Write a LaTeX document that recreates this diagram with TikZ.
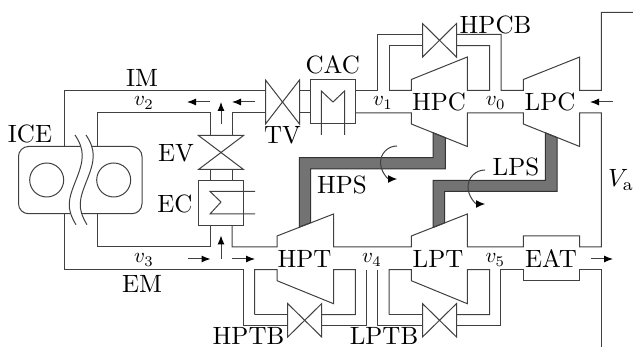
\documentclass[tikz,border=0pt]{standalone}
\definecolor{pipe}{gray}{0.25}
\definecolor{shaft}{gray}{0.45}
\usetikzlibrary{arrows.meta}
\newcommand{\valveh}[3]{\draw[pipeline, fill=white] (#1-17,#2-#3) -- (#1+17,#2+#3) -- (#1+17,#2-#3) -- (#1-17,#2+#3) -- cycle;}
\tikzset{
    pipeline/.style={draw=pipe, line width=1pt, line join=miter},
    flowarrow/.style={pipeline, -{Latex[black,length=9pt,width=7pt]}},
    spinarrow/.style={pipeline, -{Latex[black,length=9pt,width=8pt]}},
    shaftbar/.style={draw=black!80, fill=shaft, line width=1pt},
    lbl/.style={scale=2.5, transform shape, inner sep=0pt},
    vel/.style={scale=2.1, transform shape, inner sep=0pt}
}
\begin{document}
\begin{tikzpicture}[x=1pt,y=-1pt]
    \useasboundingbox (0,0) rectangle (633,347);

    % shafts
    \draw[shaftbar] (299.3,227) -- (299.3,157.7) -- (433,157.7) -- (433,132.7) -- (445.3,137.7) -- (445.3,169) -- (310.7,169) -- (310.7,222.7) -- cycle;
    \draw[shaftbar] (545.3,132.8) -- (557,137.5) -- (557,191.3) -- (444.7,191.3) -- (444.7,222.9) -- (433,227.5) -- (433,180.3) -- (545.3,180.3) -- cycle;

    % engine
    \draw[pipeline, rounded corners=10pt] (80,146.5) -- (18.5,146.5) -- (18.5,213.7) -- (70,213.7);
    \draw[pipeline, rounded corners=10pt] (90,146.5) -- (142,146.5) -- (142,213.7) -- (82,213.7);
    \draw[pipeline] (46.7,180) circle (17);
    \draw[pipeline] (113.7,180) circle (17);
    \draw[fill=white, draw=none] (75,135) .. controls (85,150) and (84,160) .. (76,180) .. controls (68,200) and (66,208) .. (76,224.7) -- (87,224.7) .. controls (77,208) and (79,200) .. (87,180) .. controls (95,160) and (96,150) .. (86,135) -- cycle;
    \draw[pipeline] (75,135) .. controls (85,150) and (84,160) .. (76,180) .. controls (68,200) and (66,208) .. (76,224.7);
    \draw[pipeline] (86,135) .. controls (96,150) and (95,160) .. (87,180) .. controls (79,200) and (77,208) .. (87,224.7);

    % intake side
    \draw[pipeline] (64,146.5) -- (64,90.5) -- (265.5,90.5);
    \draw[pipeline] (97.5,146.5) -- (97.5,113) -- (210,113) -- (210,135.5);
    \draw[pipeline] (232,135.5) -- (232,113) -- (265.5,113);
    \draw[pipeline] (299.5,90.5) -- (310.5,90.5);
    \draw[pipeline] (299.5,113) -- (310.5,113);
    \draw[pipeline] (355.3,90.5) -- (377.7,90.5) -- (377.7,34.5) -- (422.7,34.5);
    \draw[pipeline] (389,90.5) -- (389,45.7) -- (422.7,45.7);
    \draw[pipeline] (389,90.5) -- (411.3,90.5) -- (411.3,79.5) -- (467.3,57) -- (467.3,90.5) -- (489.7,90.5) -- (489.7,45.7) -- (456.3,45.7);
    \draw[pipeline] (456.3,34.5) -- (501,34.5) -- (501,90.5) -- (523.3,90.5) -- (523.3,79.5) -- (579.7,57) -- (579.7,90.5) -- (601.3,90.5) -- (601.3,12.5) -- (633,12.5);
    \draw[pipeline] (355.3,113) -- (411.3,113) -- (411.3,124) -- (467.3,146.5) -- (467.3,113) -- (523.3,113) -- (523.3,124) -- (579.7,146.5) -- (579.7,113) -- (601.3,113) -- (601.3,247) -- (579.7,247) -- (579.7,236) -- (523.3,236) -- (523.3,247) -- (467.3,247) -- (467.3,214) -- (411.3,236) -- (411.3,247) -- (333.5,247) -- (333.5,214) -- (277,236) -- (277,247) -- (232,247) -- (232,225.3);

    % exhaust side
    \draw[pipeline] (97.5,213.7) -- (97.5,247) -- (210,247) -- (210,225.3);
    \draw[pipeline] (64,213.7) -- (64,269.7) -- (243.5,269.7) -- (243.5,326) -- (288,326);
    \draw[pipeline] (254.7,314.7) -- (254.7,269.7) -- (277,269.7) -- (277,280.7) -- (333.5,303.7) -- (333.5,269.7) -- (355.3,269.7) -- (355.3,314.7) -- (321.5,314.7);
    \draw[pipeline] (254.7,314.7) -- (288,314.7);
    \draw[pipeline] (321.5,326) -- (366.3,326) -- (366.3,269.7);
    \draw[pipeline] (377.7,269.7) -- (377.7,326) -- (422.7,326);
    \draw[pipeline] (389,314.7) -- (389,269.7) -- (411.3,269.7) -- (411.3,280.7) -- (467.3,303.7) -- (467.3,269.7) -- (489.7,269.7) -- (489.7,314.7) -- (456.3,314.7);
    \draw[pipeline] (389,314.7) -- (422.7,314.7);
    \draw[pipeline] (456.3,326) -- (500.7,326) -- (500.7,269.7) -- (523.3,269.7) -- (523.3,281) -- (579.7,281) -- (579.7,269.7) -- (601.3,269.7) -- (601.3,347);

    % EGR branch
    \draw[pipeline] (210,169.5) -- (210,180.3);
    \draw[pipeline] (232,169.5) -- (232,180.3);
    \draw[pipeline, fill=white] (198.5,135.5) -- (243.5,169.5) -- (198.5,169.5) -- (243.5,135.5) -- cycle;
    \draw[pipeline] (198.5,180.3) rectangle (243.5,225.3);
    \draw[pipeline] (255,191.5) -- (210,191.5) -- (221,202) -- (210,214) -- (255,214);

    % cooler and valves
    \draw[pipeline] (310.5,80) rectangle (355.3,124);
    \draw[pipeline] (321.3,135) -- (321.3,91) -- (333,102) -- (344.5,91) -- (344.5,135);
    \valveh{282.5}{102}{22}
    \valveh{439.5}{40.3}{16.8}
    \valveh{304.7}{320.3}{16.7}
    \valveh{439.5}{320.3}{16.7}

    % flow arrows
    \draw[flowarrow] (210,102) -- (187,102);
    \draw[flowarrow] (255,102) -- (232,102);
    \draw[flowarrow] (221,124.5) -- (221,102);
    \draw[flowarrow] (613,102) -- (590,102);
    \draw[flowarrow] (187.5,259) -- (210.5,259);
    \draw[flowarrow] (232,259) -- (255,259);
    \draw[flowarrow] (221,259) -- (221,235.5);
    \draw[flowarrow] (590.5,259) -- (613,259);

    % shaft rotation
    \draw[spinarrow] (397,146) arc (270:90:16.5);
    \draw[spinarrow] (485,170) arc (270:90:17);

    % labels
    \node[lbl] (ice) at (30,134) {ICE};
    \node[lbl] (im) at (142,78) {IM};
    \node[lbl] (em) at (142,284) {EM};
    \node[lbl] (tv) at (282.5,135) {TV};
    \node[lbl] (ev) at (176,153) {EV};
    \node[lbl] (ec) at (175,204) {EC};
    \node[lbl] (cac) at (332.7,65) {CAC};
    \node[lbl] (hpc) at (439,102) {HPC};
    \node[lbl] (lpc) at (550,102) {LPC};
    \node[lbl] (hpcb) at (495.5,25) {HPCB};
    \node[lbl] (hps) at (342,185) {HPS};
    \node[lbl] (lps) at (516,167) {LPS};
    \node[lbl] (hpt) at (304.5,259) {HPT};
    \node[lbl] (lpt) at (438,259) {LPT};
    \node[lbl] (eat) at (551,259) {EAT};
    \node[lbl] (hptb) at (248.5,336) {HPTB};
    \node[lbl] (lptb) at (384,336) {LPTB};
    \node[lbl] (va) at (621,180) {$V_{\mathrm{a}}$};
    \node[vel] (vtwo) at (144,103) {$v_2$};
    \node[vel] (vthree) at (144,260) {$v_3$};
    \node[vel] (vone) at (383,103) {$v_1$};
    \node[vel] (vzero) at (495.7,103) {$v_0$};
    \node[vel] (vfour) at (372,260) {$v_4$};
    \node[vel] (vfive) at (495.3,260) {$v_5$};
\end{tikzpicture}
\end{document}
